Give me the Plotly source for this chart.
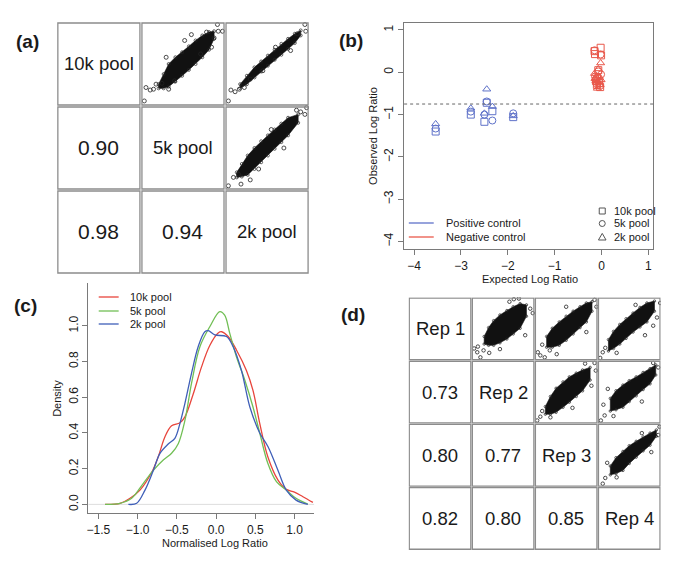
import plotly.graph_objects as go

W, H = 685, 573
FONT = "Arial, Liberation Sans, Helvetica, sans-serif"
TXT = "#1a1a1a"
AXC = "#7a7a7a"

def PX(x):
    return x / W

def PY(y):
    return 1 - y / H

# ---------------- (a) pairs: pools ----------------
a_labels = ["10k pool", "5k pool", "2k pool"]
a_corr_rows = [[0.90], [0.98, 0.94]]          # lower triangle, rows 2..3
# clouds in cell-local units: u (x), band lo/hi (y), plus outlying points
a_clouds = {
    (0, 1): dict(u=[.21, .27, .33, .41, .49, .57, .65, .73, .81, .87], lo=[.21, .21, .23, .29, .36, .43, .50, .58, .67, .80],
                 hi=[.26, .38, .50, .58, .64, .71, .78, .84, .88, .89],
                 ou=[.04, .06, .11, .15, .18, .25, .33, .91, .97, .92, .78, .87, .71, .40, .60, .52, .84, .30],
                 ov=[.06, .22, .19, .20, .26, .27, .20, .97, .89, .89, .88, .81, .62, .30, .85, .78, .70, .58]),
    (0, 2): dict(u=[.18, .26, .35, .43, .51, .59, .67, .75, .83, .90], lo=[.21, .26, .34, .41, .48, .55, .61, .68, .75, .84],
                 hi=[.26, .36, .46, .53, .60, .67, .74, .80, .86, .90],
                 ou=[.04, .07, .12, .17, .23, .30, .95, .96, .86, .60, .45, .78],
                 ov=[.06, .19, .17, .20, .22, .32, .97, .89, .86, .70, .42, .66]),
    (1, 2): dict(u=[.14, .20, .27, .35, .43, .51, .59, .67, .75, .87], lo=[.15, .16, .18, .25, .33, .41, .49, .57, .65, .80],
                 hi=[.21, .31, .41, .50, .58, .65, .72, .79, .86, .90],
                 ou=[.04, .10, .16, .19, .97, .95, .90, .85, .30, .55, .70, .40],
                 ov=[.05, .15, .19, .07, .98, .90, .93, .95, .12, .72, .50, .25]),
}

# ---------------- (b) controls ----------------
pos_x = [-3.54, -2.79, -2.50, -2.45, -2.33, -1.885]
pos_10k = [-1.40, -1.00, -1.17, -0.72, -0.92, -1.06]
pos_5k = [-1.33, -0.93, -1.00, -0.69, -1.14, -0.97]
pos_2k = [-1.22, -0.85, -0.97, -0.40, -0.81, -1.03]
neg_x = [-0.15, -0.14, -0.12, -0.10, -0.09, -0.07, -0.05, -0.03, -0.02, -0.01]
neg_10k = [0.50, 0.43, -0.20, -0.30, -0.15, 0.05, -0.25, -0.35, 0.58, 0.40]
neg_5k = [0.52, -0.10, -0.18, -0.28, -0.12, 0.02, -0.22, -0.32, 0.42, -0.05]
neg_2k = [-0.03, -0.15, -0.20, -0.25, -0.38, 0.08, -0.10, -0.30, 0.22, -0.18]
b_threshold = -0.75
b_ticks = [-4, -3, -2, -1, 0, 1]

# ---------------- (c) densities ----------------
d10_x = [-1.415, -1.224, -1.097, -0.97, -0.82, -0.737, -0.65, -0.567, -0.46, -0.397, -0.29, -0.185,
         -0.08, 0.027, 0.07, 0.154, 0.26, 0.387, 0.47, 0.557, 0.66, 0.79, 0.896, 1.0, 1.108, 1.235]
d10_y = [0.0, 0.006, 0.034, 0.08, 0.18, 0.267, 0.38, 0.44, 0.457, 0.49, 0.62, 0.77,
         0.89, 0.96, 0.967, 0.94, 0.865, 0.75, 0.64, 0.454, 0.267, 0.136, 0.084, 0.069, 0.043, 0.011]
d5_x = [-1.415, -1.224, -1.076, -0.927, -0.80, -0.673, -0.567, -0.482, -0.397, -0.313, -0.206, -0.08,
        0.048, 0.11, 0.175, 0.26, 0.366, 0.47, 0.557, 0.66, 0.77, 0.896, 1.02, 1.17]
d5_y = [0.0, 0.006, 0.034, 0.118, 0.19, 0.248, 0.286, 0.34, 0.47, 0.678, 0.883, 0.995,
        1.08, 1.06, 0.958, 0.827, 0.697, 0.547, 0.40, 0.23, 0.127, 0.08, 0.034, 0.002]
d2_x = [-1.118, -1.012, -0.906, -0.80, -0.715, -0.61, -0.525, -0.46, -0.397, -0.313, -0.228, -0.143,
        -0.10, -0.016, 0.133, 0.218, 0.324, 0.43, 0.557, 0.663, 0.79, 0.896, 1.02, 1.17]
d2_y = [0.0, 0.006, 0.08, 0.19, 0.286, 0.338, 0.37, 0.454, 0.566, 0.734, 0.883, 0.967,
        0.973, 0.949, 0.94, 0.883, 0.75, 0.547, 0.40, 0.323, 0.19, 0.08, 0.024, 0.0]
c_xticks = [-1.5, -1.0, -0.5, 0.0, 0.5, 1.0]
c_yticks = [0.0, 0.2, 0.4, 0.6, 0.8, 1.0]
c_names = ["10k pool", "5k pool", "2k pool"]
c_colors = ["#e8453c", "#72bf56", "#3f5fb8"]

# ---------------- (d) pairs: replicates ----------------
d_labels = ["Rep 1", "Rep 2", "Rep 3", "Rep 4"]
d_corr_rows = [[0.73], [0.80, 0.77], [0.82, 0.80, 0.85]]
d_clouds = {
    (0, 1): dict(u=[.20, .27, .35, .45, .56, .66, .77, .87], lo=[.26, .24, .24, .28, .34, .42, .51, .70],
                 hi=[.38, .52, .63, .72, .79, .85, .90, .88],
                 ou=[.04, .09, .14, .19, .67, .93, .85, .97, .28, .10, .60, .45, .75],
                 ov=[.19, .13, .05, .16, .97, .82, .40, .75, .12, .22, .93, .18, .98]),
    (0, 2): dict(u=[.19, .28, .39, .50, .61, .72, .82, .91], lo=[.21, .21, .24, .32, .42, .52, .61, .78],
                 hi=[.38, .51, .61, .70, .78, .85, .91, .93],
                 ou=[.05, .09, .16, .24, .95, .98, .82, .12, .50, .35],
                 ov=[.13, .08, .05, .16, .96, .85, .45, .25, .85, .10]),
    (0, 3): dict(u=[.17, .25, .35, .45, .56, .67, .78, .90], lo=[.15, .19, .26, .35, .45, .53, .61, .78],
                 hi=[.33, .46, .57, .66, .75, .84, .91, .94],
                 ou=[.04, .08, .99, .94, .75, .12, .60, .30, .88],
                 ov=[.04, .13, .91, .68, .40, .20, .88, .12, .55]),
    (1, 2): dict(u=[.17, .25, .34, .45, .55, .66, .76, .88], lo=[.15, .15, .18, .26, .34, .43, .52, .69],
                 hi=[.27, .43, .56, .66, .74, .80, .85, .89],
                 ou=[.04, .09, .95, .97, .80, .12, .25, .90, .60],
                 ov=[.05, .11, .96, .84, .95, .20, .10, .60, .25]),
    (1, 3): dict(u=[.20, .29, .40, .50, .61, .72, .83, .92], lo=[.20, .22, .26, .35, .44, .54, .63, .77],
                 hi=[.40, .52, .61, .68, .74, .81, .87, .93],
                 ou=[.05, .11, .16, .96, .88, .25, .09, .70],
                 ov=[.05, .13, .55, .89, .96, .12, .30, .35]),
    (2, 3): dict(u=[.20, .29, .40, .50, .61, .72, .83, .93], lo=[.19, .21, .26, .37, .47, .57, .66, .80],
                 hi=[.33, .46, .56, .65, .72, .79, .85, .90],
                 ou=[.08, .12, .15, .98, .96, .70, .30, .85],
                 ov=[.05, .14, .38, .95, .82, .85, .15, .55]),
}

fig = go.Figure()


def add_pairs(ax, labels, corr_rows, clouds, lab_size, corr_size, msize):
    xa, ya = "x" + ax, "y" + ax
    n = len(labels)
    for r in range(n):
        for c in range(n):
            fig.add_shape(type="rect", xref=xa, yref=ya, x0=c + 0.012, x1=c + 0.988,
                          y0=r + 0.012, y1=r + 0.988, line=dict(color="#8c8c8c", width=1.3),
                          layer="above")
    for i, lab in enumerate(labels):
        fig.add_annotation(xref=xa, yref=ya, x=i + 0.5, y=i + 0.5, text=lab, showarrow=False,
                           font=dict(family=FONT, size=lab_size, color=TXT))
    for ri, row in enumerate(corr_rows):
        for c, val in enumerate(row):
            fig.add_annotation(xref=xa, yref=ya, x=c + 0.5, y=ri + 1.5, text=f"{val:.2f}",
                               showarrow=False, font=dict(family=FONT, size=corr_size, color=TXT))
    for (r, c), cl in clouds.items():
        xs = [c + u for u in cl["u"]] + [c + u for u in reversed(cl["u"])]
        ys = [r + 1 - v for v in cl["hi"]] + [r + 1 - v for v in reversed(cl["lo"])]
        fig.add_trace(go.Scatter(x=xs + xs[:1], y=ys + ys[:1], mode="lines", fill="toself",
                                 fillcolor="#111", line=dict(color="#111", width=0.6),
                                 xaxis=xa, yaxis=ya, hoverinfo="skip", showlegend=False))
        # speckled rim: open circles on the band edges
        fig.add_trace(go.Scatter(x=xs, y=ys, mode="markers", xaxis=xa, yaxis=ya, hoverinfo="skip",
                                 showlegend=False,
                                 marker=dict(symbol="circle-open", size=msize - 1, color="#222",
                                             line=dict(width=0.7))))
        fig.add_trace(go.Scatter(x=[c + u for u in cl["ou"]], y=[r + 1 - v for v in cl["ov"]],
                                 mode="markers", xaxis=xa, yaxis=ya, hoverinfo="skip", showlegend=False,
                                 marker=dict(symbol="circle-open", size=msize, color="#222",
                                             line=dict(width=0.8))))


add_pairs("", a_labels, a_corr_rows, a_clouds, 18.5, 21, 4)
add_pairs("4", d_labels, d_corr_rows, d_clouds, 18.5, 18.5, 3.5)

# (b) scatter
BLUE, RED = "#5f72c9", "#e9584b"
for xs, ys, sym in [(pos_x, pos_10k, "square-open"), (pos_x, pos_5k, "circle-open"),
                    (pos_x, pos_2k, "triangle-up-open")]:
    fig.add_trace(go.Scatter(x=xs, y=ys, mode="markers", xaxis="x2", yaxis="y2", showlegend=False,
                             marker=dict(symbol=sym, size=7, color=BLUE, line=dict(width=1))))
for xs, ys, sym in [(neg_x, neg_10k, "square-open"), (neg_x, neg_5k, "circle-open"),
                    (neg_x, neg_2k, "triangle-up-open")]:
    fig.add_trace(go.Scatter(x=xs, y=ys, mode="markers", xaxis="x2", yaxis="y2", showlegend=False,
                             marker=dict(symbol=sym, size=7, color=RED, line=dict(width=1))))
fig.add_shape(type="line", xref="x2 domain", yref="y2", x0=0, x1=1, y0=b_threshold, y1=b_threshold,
              line=dict(color="#666", width=1, dash="3px,3px"))

# (c) densities
fig.add_shape(type="line", xref="x3 domain", yref="y3", x0=0, x1=1, y0=0, y1=0,
              line=dict(color="#dddddd", width=1), layer="below")
for xs, ys, nm, col in zip([d10_x, d5_x, d2_x], [d10_y, d5_y, d2_y], c_names, c_colors):
    fig.add_trace(go.Scatter(x=xs, y=ys, mode="lines", name=nm, xaxis="x3", yaxis="y3", showlegend=False,
                             line=dict(color=col, width=1.3, shape="spline", smoothing=1.0)))

# legends (drawn in page coordinates)
def ann(x, y, text, size=11, anchor="left", bold=False, angle=0):
    fig.add_annotation(xref="paper", yref="paper", x=PX(x), y=PY(y), text=(f"<b>{text}</b>" if bold else text),
                       showarrow=False, xanchor=anchor, yanchor="middle", textangle=angle,
                       font=dict(family=FONT, size=size, color=TXT))

def hline(x0, x1, y, col):
    fig.add_shape(type="line", xref="paper", yref="paper", x0=PX(x0), x1=PX(x1), y0=PY(y), y1=PY(y),
                  line=dict(color=col, width=1.3))

# (b) legends
hline(408, 433, 223, BLUE)
hline(408, 433, 237, RED)
ann(443, 223, "Positive control")
ann(443, 237, "Negative control")
SYMC = "#555"
fig.add_shape(type="rect", xref="paper", yref="paper", xsizemode="pixel", ysizemode="pixel",
              xanchor=PX(602), yanchor=PY(211), x0=-3, x1=3, y0=-3, y1=3, line=dict(color=SYMC, width=1))
fig.add_shape(type="circle", xref="paper", yref="paper", xsizemode="pixel", ysizemode="pixel",
              xanchor=PX(602), yanchor=PY(223.5), x0=-3, x1=3, y0=-3, y1=3, line=dict(color=SYMC, width=1))
fig.add_shape(type="path", xref="paper", yref="paper", xsizemode="pixel", ysizemode="pixel",
              xanchor=PX(602), yanchor=PY(237), path="M-3.8,-3 L3.8,-3 L0,3.6 Z",
              line=dict(color=SYMC, width=1))
ann(612, 211, "10k pool")
ann(612, 223.5, "5k pool")
ann(612, 237, "2k pool")

# (c) legend
for yy, nm, col in zip([297, 311, 324], c_names, c_colors):
    hline(97, 117, yy, col)
    ann(126, yy, nm)

# axis titles
ann(530, 279, "Expected Log Ratio", anchor="center")
ann(372, 136, "Observed Log Ratio", anchor="center", angle=-90)
ann(214, 543, "Normalised Log Ratio", anchor="center")
ann(55, 398, "Density", anchor="center", angle=-90)

# panel tags
ann(26, 42, "(a)", size=19, anchor="center", bold=True)
ann(350, 40, "(b)", size=19, anchor="center", bold=True)
ann(24, 305, "(c)", size=19, anchor="center", bold=True)
ann(352, 314, "(d)", size=19, anchor="center", bold=True)

hidden = dict(visible=False, showgrid=False, zeroline=False, fixedrange=True)
tickstyle = dict(showgrid=False, zeroline=False, ticks="outside", ticklen=5, tickcolor=AXC,
                 showline=True, linecolor=AXC, linewidth=1, fixedrange=True,
                 tickfont=dict(family=FONT, size=12, color=TXT))

fig.update_layout(
    width=W, height=H, margin=dict(l=0, r=0, t=0, b=0),
    paper_bgcolor="white", plot_bgcolor="rgba(0,0,0,0)", showlegend=False,
    xaxis=dict(domain=[PX(55), PX(308)], range=[0, 3], anchor="y", **hidden),
    yaxis=dict(domain=[PY(274), PY(22)], range=[3, 0], anchor="x", **hidden),
    xaxis4=dict(domain=[PX(407.7), PX(660.7)], range=[0, 4], anchor="y4", **hidden),
    yaxis4=dict(domain=[PY(550), PY(297.3)], range=[4, 0], anchor="x4", **hidden),
    xaxis2=dict(domain=[PX(403.3), PX(653.3)], range=[-4.213, 1.106], anchor="y2", mirror=True,
                tickvals=b_ticks, **tickstyle),
    yaxis2=dict(domain=[PY(249.3), PY(23.3)], range=[-4.184, 1.158], anchor="x2", mirror=True,
                tickvals=b_ticks, tickangle=-90, **tickstyle),
    xaxis3=dict(domain=[PX(86.7), PX(313)], range=[-1.627, 1.25], anchor="y3",
                tickvals=c_xticks, tickformat=".1f", **tickstyle),
    yaxis3=dict(domain=[PY(513.3), PY(283)], range=[-0.05, 1.24], anchor="x3",
                tickvals=c_yticks, tickformat=".1f", tickangle=-90, **tickstyle),
)

fig.write_html("out.html", config={"displayModeBar": False},
               post_script="document.body.style.margin='0px';document.body.style.overflow='hidden';")
